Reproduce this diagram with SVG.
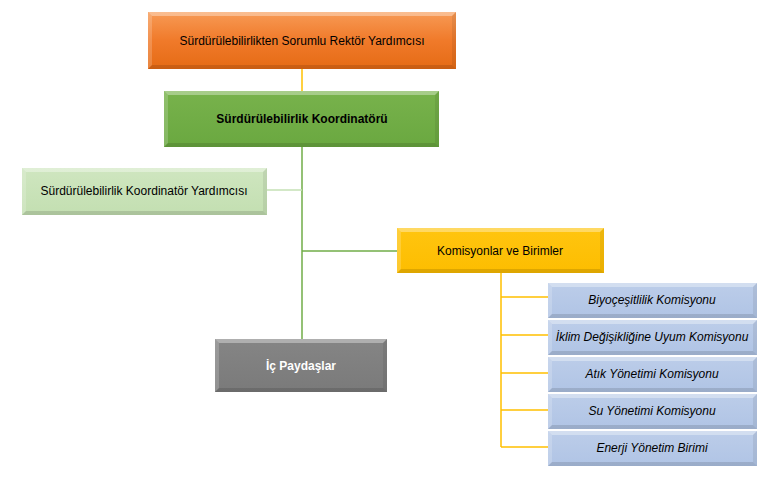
<svg xmlns="http://www.w3.org/2000/svg" width="777" height="484" viewBox="0 0 777 484">
<defs>
<linearGradient id="gO" x1="0" y1="0" x2="0" y2="1"><stop offset="0" stop-color="#f79a55"/><stop offset="0.5" stop-color="#f07a2a"/><stop offset="1" stop-color="#e56b15"/></linearGradient>
<linearGradient id="gG" x1="0" y1="0" x2="0" y2="1"><stop offset="0" stop-color="#78b24c"/><stop offset="1" stop-color="#6aa840"/></linearGradient>
<linearGradient id="gL" x1="0" y1="0" x2="0" y2="1"><stop offset="0" stop-color="#cfe6c0"/><stop offset="1" stop-color="#c3dfb1"/></linearGradient>
<linearGradient id="gY" x1="0" y1="0" x2="0" y2="1"><stop offset="0" stop-color="#ffc510"/><stop offset="1" stop-color="#fdbd00"/></linearGradient>
<linearGradient id="gB" x1="0" y1="0" x2="0" y2="1"><stop offset="0" stop-color="#bccde9"/><stop offset="1" stop-color="#b0c4e5"/></linearGradient>
<linearGradient id="gR" x1="0" y1="0" x2="0" y2="1"><stop offset="0" stop-color="#858585"/><stop offset="1" stop-color="#7a7a7a"/></linearGradient>
</defs>
<style>
.t{font-family:"Liberation Sans",Arial,sans-serif;font-size:12px;fill:#000;text-anchor:middle;dominant-baseline:central}
.b{font-weight:bold}
.i{font-style:italic}
.w{fill:#fff}
.hl{fill:#fff;opacity:.35}
.hl2{fill:#fff;opacity:.18}
.sh{fill:#000;opacity:.12}
.sh2{fill:#000;opacity:.07}
.cg{stroke:#70ad47;stroke-width:1.5;fill:none}
.cl{stroke:#c5e0b4;stroke-width:1.5;fill:none}
.cy{stroke:#ffc000;stroke-width:1.5;fill:none}
</style>
<g id="connectors">
<line class="cy" x1="302" y1="69" x2="302" y2="91"/>
<line class="cg" x1="302" y1="147" x2="302" y2="339"/>
<line class="cl" x1="267" y1="190" x2="302" y2="190"/>
<line class="cg" x1="302" y1="251" x2="398" y2="251"/>
<path class="cy" d="M501 273 V447 M501 297 H548 M501 335 H548 M501 373 H548 M501 410 H548 M501 447 H548"/>
</g>
<g id="n-rektor">
<rect x="148" y="12" width="308" height="57" fill="url(#gO)"/>
<path class="hl" d="M148 12 H456 l-4 4 H152 z"/>
<path class="hl2" d="M148 12 l4 4 V65 l-4 4 z"/>
<path class="sh" d="M148 69 l4 -4 H452 l4 4 z"/>
<path class="sh2" d="M456 12 l-4 4 V65 l4 4 z"/>
<text class="t" x="302" y="41">Sürdürülebilirlikten Sorumlu Rektör Yardımcısı</text>
</g>
<g id="n-koordinator">
<rect x="164" y="91" width="275" height="56" fill="url(#gG)"/>
<path class="hl" d="M164 91 H439 l-4 4 H168 z"/>
<path class="hl2" d="M164 91 l4 4 V143 l-4 4 z"/>
<path class="sh" d="M164 147 l4 -4 H435 l4 4 z"/>
<path class="sh2" d="M439 91 l-4 4 V143 l4 4 z"/>
<text class="t b" x="302" y="119">Sürdürülebilirlik Koordinatörü</text>
</g>
<g id="n-yardimci">
<rect x="22" y="168" width="245" height="47" fill="url(#gL)"/>
<path class="hl" d="M22 168 H267 l-4 4 H26 z"/>
<path class="hl2" d="M22 168 l4 4 V211 l-4 4 z"/>
<path class="sh" d="M22 215 l4 -4 H263 l4 4 z"/>
<path class="sh2" d="M267 168 l-4 4 V211 l4 4 z"/>
<text class="t" x="144" y="191">Sürdürülebilirlik Koordinatör Yardımcısı</text>
</g>
<g id="n-komisyonlar">
<rect x="397" y="228" width="207" height="45" fill="url(#gY)"/>
<path class="hl" d="M397 228 H604 l-4 4 H401 z"/>
<path class="hl2" d="M397 228 l4 4 V269 l-4 4 z"/>
<path class="sh" d="M397 273 l4 -4 H600 l4 4 z"/>
<path class="sh2" d="M604 228 l-4 4 V269 l4 4 z"/>
<text class="t" x="500" y="251">Komisyonlar ve Birimler</text>
</g>
<g id="n-biyo">
<rect x="548" y="283" width="209" height="35" fill="url(#gB)"/>
<path class="hl" d="M548 283 H757 l-4 4 H552 z"/>
<path class="hl2" d="M548 283 l4 4 V314 l-4 4 z"/>
<path class="sh" d="M548 318 l4 -4 H753 l4 4 z"/>
<path class="sh2" d="M757 283 l-4 4 V314 l4 4 z"/>
<text class="t i" x="652" y="300">Biyoçeşitlilik Komisyonu</text>
</g>
<g id="n-iklim">
<rect x="548" y="320" width="209" height="35" fill="url(#gB)"/>
<path class="hl" d="M548 320 H757 l-4 4 H552 z"/>
<path class="hl2" d="M548 320 l4 4 V351 l-4 4 z"/>
<path class="sh" d="M548 355 l4 -4 H753 l4 4 z"/>
<path class="sh2" d="M757 320 l-4 4 V351 l4 4 z"/>
<text class="t i" x="652" y="337">İklim Değişikliğine Uyum Komisyonu</text>
</g>
<g id="n-atik">
<rect x="548" y="357" width="209" height="35" fill="url(#gB)"/>
<path class="hl" d="M548 357 H757 l-4 4 H552 z"/>
<path class="hl2" d="M548 357 l4 4 V388 l-4 4 z"/>
<path class="sh" d="M548 392 l4 -4 H753 l4 4 z"/>
<path class="sh2" d="M757 357 l-4 4 V388 l4 4 z"/>
<text class="t i" x="652" y="374">Atık Yönetimi Komisyonu</text>
</g>
<g id="n-su">
<rect x="548" y="394" width="209" height="35" fill="url(#gB)"/>
<path class="hl" d="M548 394 H757 l-4 4 H552 z"/>
<path class="hl2" d="M548 394 l4 4 V425 l-4 4 z"/>
<path class="sh" d="M548 429 l4 -4 H753 l4 4 z"/>
<path class="sh2" d="M757 394 l-4 4 V425 l4 4 z"/>
<text class="t i" x="652" y="411">Su Yönetimi Komisyonu</text>
</g>
<g id="n-enerji">
<rect x="548" y="431" width="209" height="35" fill="url(#gB)"/>
<path class="hl" d="M548 431 H757 l-4 4 H552 z"/>
<path class="hl2" d="M548 431 l4 4 V462 l-4 4 z"/>
<path class="sh" d="M548 466 l4 -4 H753 l4 4 z"/>
<path class="sh2" d="M757 431 l-4 4 V462 l4 4 z"/>
<text class="t i" x="652" y="448">Enerji Yönetim Birimi</text>
</g>
<g id="n-ic">
<rect x="215" y="339" width="172" height="53" fill="url(#gR)"/>
<path class="hl" d="M215 339 H387 l-4 4 H219 z"/>
<path class="hl2" d="M215 339 l4 4 V388 l-4 4 z"/>
<path class="sh" d="M215 392 l4 -4 H383 l4 4 z"/>
<path class="sh2" d="M387 339 l-4 4 V388 l4 4 z"/>
<text class="t b w" x="301" y="366">İç Paydaşlar</text>
</g>
</svg>
